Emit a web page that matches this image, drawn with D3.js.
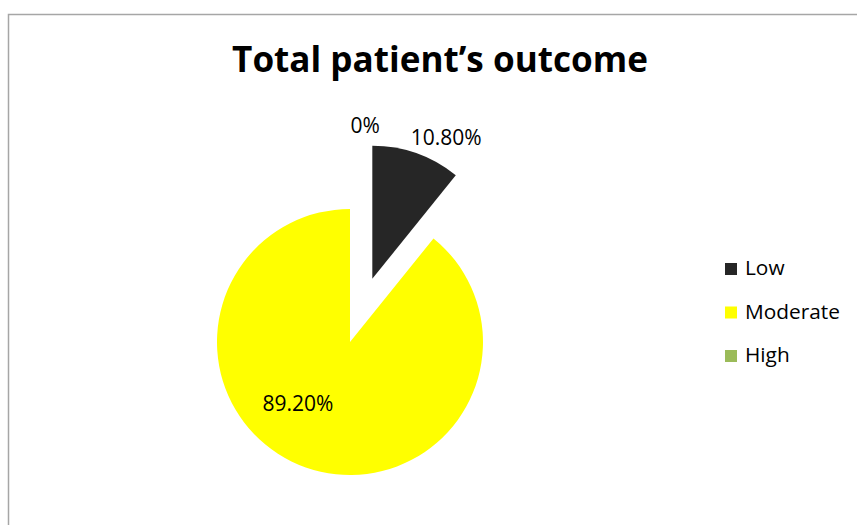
<!DOCTYPE html>
<html>
<head>
<meta charset="utf-8">
<script src="https://cdn.jsdelivr.net/npm/d3@7"></script>
<style>
  html, body { margin: 0; padding: 0; background: #fff; }
  svg { display: block; }
  text { font-family: "Open Sans", "Liberation Sans", sans-serif; }
</style>
</head>
<body>
<svg id="chart" width="857" height="525"></svg>
<script>
// ---- data ----
const title = "Total patient\u2019s outcome";
const categories = ["Low", "Moderate", "High"];
const values = [10.8, 89.2, 0];
const valueLabels = ["10.80%", "89.20%", "0%"];
const colors = ["#262626", "#FFFF00", "#9BBB59"];

// ---- layout ----
const W = 857, H = 525;
const cx = 350, cy = 342, R = 133;
const explode = [67, 0, 0];

const svg = d3.select("#chart");

// outer border (only top/left visible)
svg.append("rect")
  .attr("x", 8.5).attr("y", 14.5)
  .attr("width", 900).attr("height", 600)
  .attr("fill", "none").attr("stroke", "#a6a6a6").attr("stroke-width", 1.5);

function fitWidth(sel, target) {
  const w = sel.node().getComputedTextLength();
  const fs = parseFloat(sel.attr("font-size"));
  sel.attr("font-size", fs * target / w);
}

// title
const t = svg.append("text")
  .attr("x", 440).attr("y", 72)
  .attr("text-anchor", "middle")
  .attr("font-weight", "bold")
  .attr("font-size", 32)
  .attr("fill", "#000")
  .text(title);
fitWidth(t, 416);

// pie
const pie = d3.pie().sort(null).value(d => d.v);
const arcs = pie(categories.map((c, i) => ({ c, v: values[i], i })));
const arc = d3.arc().innerRadius(0).outerRadius(R);

const g = svg.append("g").attr("transform", `translate(${cx},${cy})`);
arcs.forEach(a => {
  if (a.data.v <= 0) return;
  const mid = (a.startAngle + a.endAngle) / 2;
  const e = explode[a.data.i];
  const dx = Math.sin(mid) * e, dy = -Math.cos(mid) * e;
  g.append("path")
    .attr("d", arc(a))
    .attr("transform", `translate(${dx},${dy})`)
    .attr("fill", colors[a.data.i]);
});

// data labels: [angle (deg, clockwise from top), radius] relative to each slice's (exploded) center
const labelPolar = [[27.7, 159], [220, 81], [4, 217]];
arcs.forEach(a => {
  const i = a.data.i;
  const mid = (a.startAngle + a.endAngle) / 2;
  const e = explode[i];
  const ox = Math.sin(mid) * e, oy = -Math.cos(mid) * e;
  const ang = labelPolar[i][0] * Math.PI / 180, r = labelPolar[i][1];
  const x = cx + ox + Math.sin(ang) * r;
  const y = cy + oy - Math.cos(ang) * r;
  svg.append("text")
    .attr("x", x).attr("y", y + 7)
    .attr("text-anchor", "middle")
    .attr("font-size", 21)
    .attr("fill", "#000")
    .text(valueLabels[i]);
});

// legend
const leg = svg.append("g").attr("transform", "translate(725,263)");
categories.forEach((c, i) => {
  const row = leg.append("g").attr("transform", `translate(0,${i * 43.5})`);
  row.append("rect").attr("width", 12).attr("height", 12).attr("fill", colors[i]);
  const tx = row.append("text").attr("x", 20).attr("y", 12)
    .attr("font-size", 18).attr("fill", "#000").text(c);
  if (c === "Moderate") fitWidth(tx, 95);
});
const lfs = leg.selectAll("text").filter(function(){ return d3.select(this).text() === "Moderate"; }).attr("font-size");
leg.selectAll("text").attr("font-size", lfs);
</script>
</body>
</html>
